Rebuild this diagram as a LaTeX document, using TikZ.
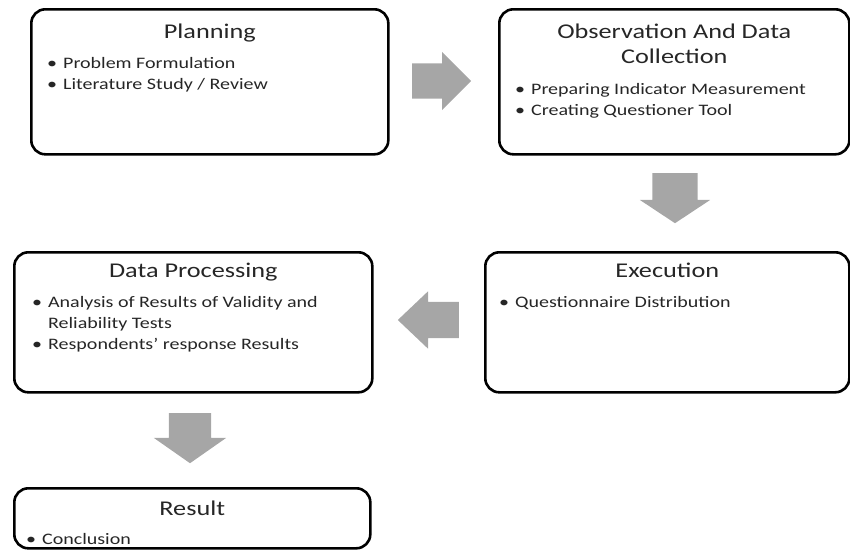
\documentclass[tikz,border=0pt]{standalone}
\usepackage{fontspec}
\setmainfont{Carlito}[FakeStretch=1.25]
\usetikzlibrary{shapes.arrows}

\newcommand{\bulletlist}[1]{\begin{tabular}[t]{@{}l@{\hspace{6pt}}l@{}}#1\end{tabular}}

\tikzset{
  stage/.style = {draw, line width=2.6pt, rounded corners=14pt, anchor=north west, inner sep=0pt},
  stagetitle/.style = {font=\fontsize{21}{25}\selectfont, text=black!85, align=center, anchor=base},
  stageitems/.style = {font=\fontsize{16}{21}\selectfont, text=black!85, anchor=base west, inner sep=0pt},
  bigarrow/.style = {single arrow, fill=black!35, draw=none, anchor=tail}
}

\begin{document}
\begin{tikzpicture}[x=1pt, y=-1pt]

      \useasboundingbox (0, 0) rectangle (850, 549);

      \node[stage, minimum width=357, minimum height=145] (planning) at (30, 8) {};
      \node[stage, minimum width=350, minimum height=145] (observation) at (498, 8) {};
      \node[stage, minimum width=364, minimum height=140] (execution) at (484, 251) {};
      \node[stage, minimum width=358, minimum height=140] (processing) at (13, 251) {};
      \node[stage, minimum width=356, minimum height=60] (result) at (13, 487) {};

      \node[stagetitle] (planningtitle) at ([yshift=-30pt]planning.north) {Planning};
      \node[stagetitle] (observationtitle) at ([yshift=-55pt]observation.north) {Observation And Data\\ Collection};
      \node[stagetitle] (executiontitle) at ([yshift=-26pt]execution.north) {Execution};
      \node[stagetitle] (processingtitle) at ([yshift=-26pt]processing.north) {Data Processing};
      \node[stagetitle] (resulttitle) at ([yshift=-28pt]result.north) {Result};

      \node[stageitems] (planningitems) at ([xshift=17pt, yshift=-60pt]planning.north west)
        {\bulletlist{\textbullet & Problem Formulation \\ \textbullet & Literature Study / Review}};
      \node[stageitems] (observationitems) at ([xshift=17pt, yshift=-86pt]observation.north west)
        {\bulletlist{\textbullet & Preparing Indicator Measurement \\ \textbullet & Creating Questioner Tool}};
      \node[stageitems] (executionitems) at ([xshift=15pt, yshift=-56pt]execution.north west)
        {\bulletlist{\textbullet & Questionnaire Distribution}};
      \node[stageitems] (processingitems) at ([xshift=19pt, yshift=-56pt]processing.north west)
        {\bulletlist{\textbullet & Analysis of Results of Validity and \\ & Reliability Tests \\ \textbullet & Respondents’ response Results}};
      \node[stageitems] (resultitems) at ([xshift=13pt, yshift=-57pt]result.north west)
        {\bulletlist{\textbullet & Conclusion}};

      \node[bigarrow, inner xsep=0pt, inner ysep=17.5pt, minimum height=59, minimum width=58,
        single arrow head extend=11.5pt] (toobservation) at (412, 81) {};
      \node[bigarrow, inner xsep=22.5pt, inner ysep=0pt, minimum height=50, minimum width=70,
        single arrow head extend=12.5pt, single arrow tip angle=113, shape border rotate=270] (toexecution) at (675, 173) {};
      \node[bigarrow, inner xsep=0pt, inner ysep=18pt, minimum height=61, minimum width=57,
        single arrow head extend=10.5pt, single arrow tip angle=87, shape border rotate=180] (toprocessing) at (459, 320) {};
      \node[bigarrow, inner xsep=21pt, inner ysep=0pt, minimum height=50, minimum width=72,
        single arrow head extend=15pt, single arrow tip angle=110, shape border rotate=270] (toresult) at (190, 413) {};

\end{tikzpicture}
\end{document}
